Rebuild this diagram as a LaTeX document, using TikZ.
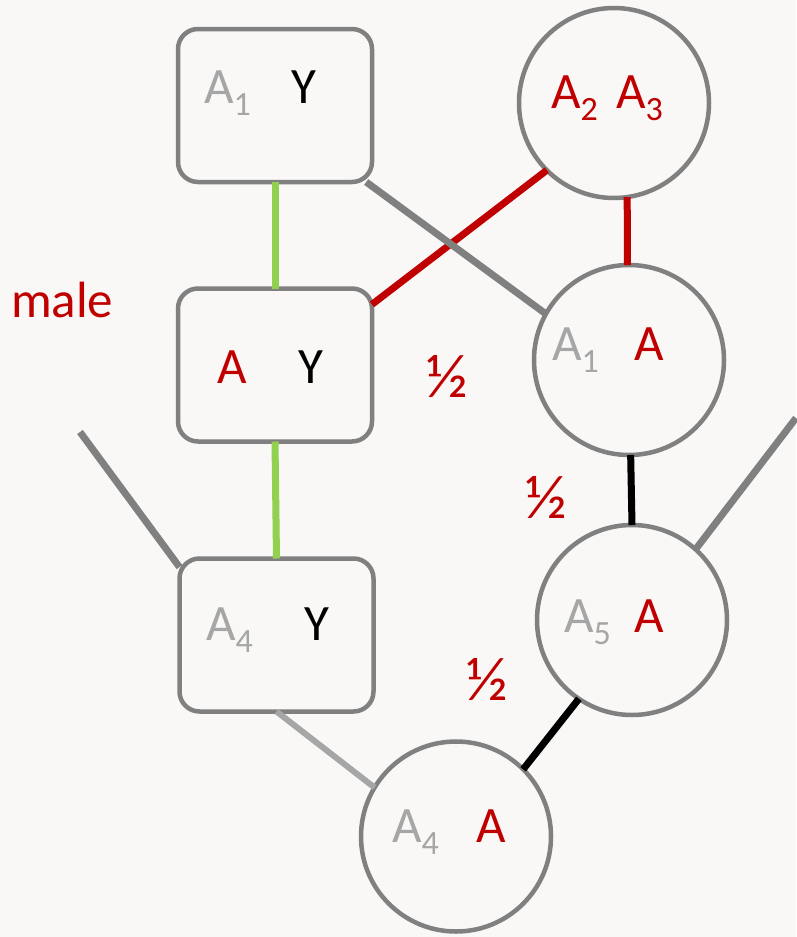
\documentclass[tikz,border=0pt]{standalone}
\usepackage{fontspec}
\setmainfont{Carlito}
\definecolor{bordgray}{HTML}{808080}
\definecolor{lgray}{HTML}{A6A6A6}
\definecolor{dred}{HTML}{C00000}
\definecolor{lgreen}{HTML}{92D050}
\definecolor{bgcol}{HTML}{F9F8F6}
\newcommand{\lsub}[1]{\raisebox{-12pt}{\fontsize{34}{34}\selectfont #1}}
\tikzset{
  box/.style={draw=bordgray, line width=4.5pt, rounded corners=20pt, minimum width=194pt, minimum height=153pt, inner sep=0pt, outer sep=0pt},
  circ/.style={draw=bordgray, line width=4.5pt, circle, minimum size=190pt, inner sep=0pt, outer sep=0pt},
  lbl/.style={anchor=base west, inner sep=0pt, outer sep=0pt, font=\fontsize{51}{60}\selectfont},
  half/.style={anchor=base west, inner sep=0pt, outer sep=0pt, font=\fontsize{62}{70}\selectfont},
  grayline/.style={draw=bordgray, line width=7pt},
  greenline/.style={draw=lgreen, line width=7pt},
  redline/.style={draw=dred, line width=7pt},
  blackline/.style={draw=black, line width=7pt},
  lgrayline/.style={draw=lgray, line width=6pt},
}
\begin{document}
\begin{tikzpicture}[x=1pt,y=-1pt]
\fill[bgcol] (0,0) rectangle (796,937);
\useasboundingbox (0,0) rectangle (796,937);
% shapes
\node[box] (b1) at (275,105.5) {};
\node[box] (b2) at (275,365) {};
\node[box] (b3) at (276.5,635) {};
\node[circ] (c1) at (614,103) {};
\node[circ] (c2) at (629,360) {};
\node[circ] (c3) at (632,620) {};
\node[circ] (c4) at (456,836.5) {};
\coordinate (lt) at (80,432);
\coordinate (rt) at (796,418);
% connectors
\draw[greenline] (b1.south) -- (b2.north);
\draw[greenline] (b2.south) -- (b3.north);
\draw[redline] (b2.32.5) -- (c1.225);
\draw[redline] (c1.-82) -- (c2.91);
\draw[grayline] (b1.-40) -- (c2.151);
\draw[blackline] (c2.-89) -- (c3.90);
\draw[grayline] (c3.48) -- (rt);
\draw[grayline] (lt) -- (b3.145.4);
\draw[lgrayline] (b3.south) -- (c4.149);
\draw[blackline] (c3.-124.5) -- (c4.45);
% labels
\node[lbl, text=lgray] (t1a) at (204,103) {A\lsub{1}};
\node[lbl, text=black] (t1y) at (291,103) {Y};
\node[lbl, text=dred] (t2a) at (551,108) {A\lsub{2}};
\node[lbl, text=dred] (t2b) at (616,108) {A\lsub{3}};
\node[lbl, text=dred] (male) at (11,317) {male};
\node[lbl, text=dred] (t3a) at (217,383) {A};
\node[lbl, text=black] (t3y) at (298,383) {Y};
\node[half, text=dred] (h1) at (426,397) {½};
\node[lbl, text=lgray] (t4a) at (552,360) {A\lsub{1}};
\node[lbl, text=dred] (t4b) at (634,360) {A};
\node[half, text=dred] (h2) at (525,518) {½};
\node[lbl, text=lgray] (t5a) at (564,632) {A\lsub{5}};
\node[lbl, text=dred] (t5b) at (634,632) {A};
\node[half, text=dred] (h3) at (466,700) {½};
\node[lbl, text=lgray] (t6a) at (206,640) {A\lsub{4}};
\node[lbl, text=black] (t6y) at (304,640) {Y};
\node[lbl, text=lgray] (t7a) at (392,842) {A\lsub{4}};
\node[lbl, text=dred] (t7b) at (476,842) {A};
\end{tikzpicture}
\end{document}
